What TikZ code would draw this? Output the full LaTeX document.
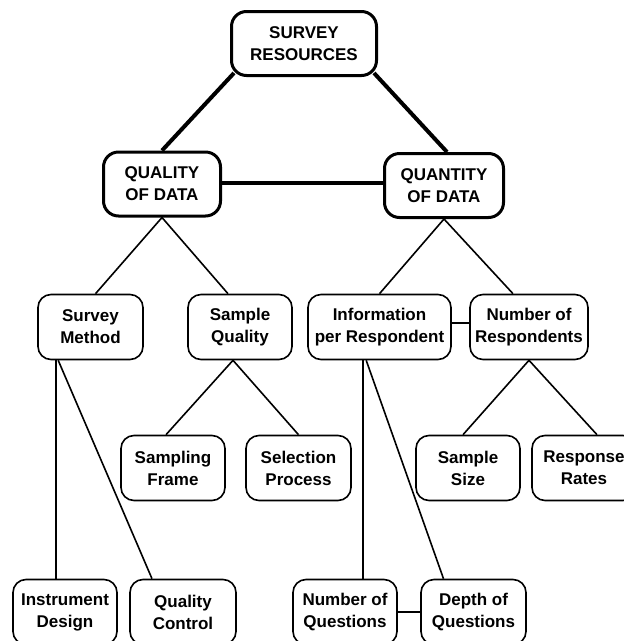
\documentclass[tikz,border=0pt]{standalone}
\usepackage{fontspec}
\setmainfont{Liberation Sans}
\usetikzlibrary{calc,backgrounds}
\begin{document}
\begin{tikzpicture}[x=1pt,y=-1pt,
  base/.style={draw, fill=white, align=center, inner sep=0pt, font=\bfseries\fontsize{17}{22}\selectfont},
  mainbox/.style={base, line width=3pt, rounded corners=15pt, minimum height=64pt},
  subbox/.style={base, line width=1.6pt, rounded corners=13pt, minimum height=65pt},
  thicklink/.style={line width=4pt},
  thinlink/.style={line width=1.6pt}]
\useasboundingbox (0,0) rectangle (624,641);
\clip (0,0) rectangle (624,641);
% level 0/1
\node[mainbox, minimum width=145pt] (SR) at (304,43.5) {SURVEY\\RESOURCES};
\node[mainbox, minimum width=117pt] (QL) at (162,184) {QUALITY\\OF DATA};
\node[mainbox, minimum width=119pt] (QN) at (444,185.5) {QUANTITY\\OF DATA};
% level 2
\node[subbox, minimum width=105pt] (SM) at (90.5,327) {Survey\\Method};
\node[subbox, minimum width=104pt] (SQ) at (240,327) {Sample\\Quality};
\node[subbox, minimum width=143pt] (IR) at (379.5,327) {Information\\per Respondent};
\node[subbox, minimum width=118pt] (NR) at (529,327) {Number of\\Respondents};
% level 3
\node[subbox, minimum width=104pt] (SF) at (173,468) {Sampling\\Frame};
\node[subbox, minimum width=105pt] (SP) at (298.5,468) {Selection\\Process};
\node[subbox, minimum width=104pt] (SS) at (468,468) {Sample\\Size};
\node[subbox, minimum width=104pt] (RR) at (584,468) {Response\\Rates};
% level 4
\node[subbox, minimum width=104pt] (ID) at (65,612) {Instrument\\Design};
\node[subbox, minimum width=106pt] (QC) at (183,612) {Quality\\Control};
\node[subbox, minimum width=104pt] (NQ) at (345,612) {Number of\\Questions};
\node[subbox, minimum width=105pt] (DQ) at (473.5,612) {Depth of\\Questions};
\begin{scope}[on background layer]
\draw[thicklink] ($(SR.south west)+(4,-4)$) -- (QL.north);
\draw[thicklink] ($(SR.south east)+(-4,-4)$) -- ($(QN.north)+(3,0)$);
\draw[thicklink] ($(QL.east)+(0,-1)$) -- ($(QL.east -| QN.west)+(0,-1)$);
\draw[thinlink] ($(SM.north)+(5,0)$) -- (QL.south) -- ($(SQ.north)+(-12,0)$);
\draw[thinlink] (IR.north) -- (QN.south) -- ($(NR.north)+(-16,0)$);
\draw[thinlink] ($(IR.east)+(0,-4)$) -- ($(IR.east -| NR.west)+(0,-4)$);
\draw[thinlink] ($(SF.north)+(-7,0)$) -- ($(SQ.south)+(-7,0)$) -- (SP.north);
\draw[thinlink] ($(SS.north)+(-5,0)$) -- (NR.south) -- ($(RR.north)+(13,0)$);
\draw[thinlink] ($(SM.south west)+(19,0)$) coordinate (smv) -- (smv |- ID.north);
\draw[thinlink] ($(SM.south west)+(21,0)$) -- ($(QC.north)+(-31,0)$);
\draw[thinlink] ($(IR.south west)+(56,0)$) coordinate (irv) -- (irv |- NQ.north);
\draw[thinlink] ($(IR.south west)+(59,0)$) -- ($(DQ.north)+(-30,0)$);
\draw[thinlink] (NQ.east) -- (DQ.west);
\end{scope}
\end{tikzpicture}
\end{document}
